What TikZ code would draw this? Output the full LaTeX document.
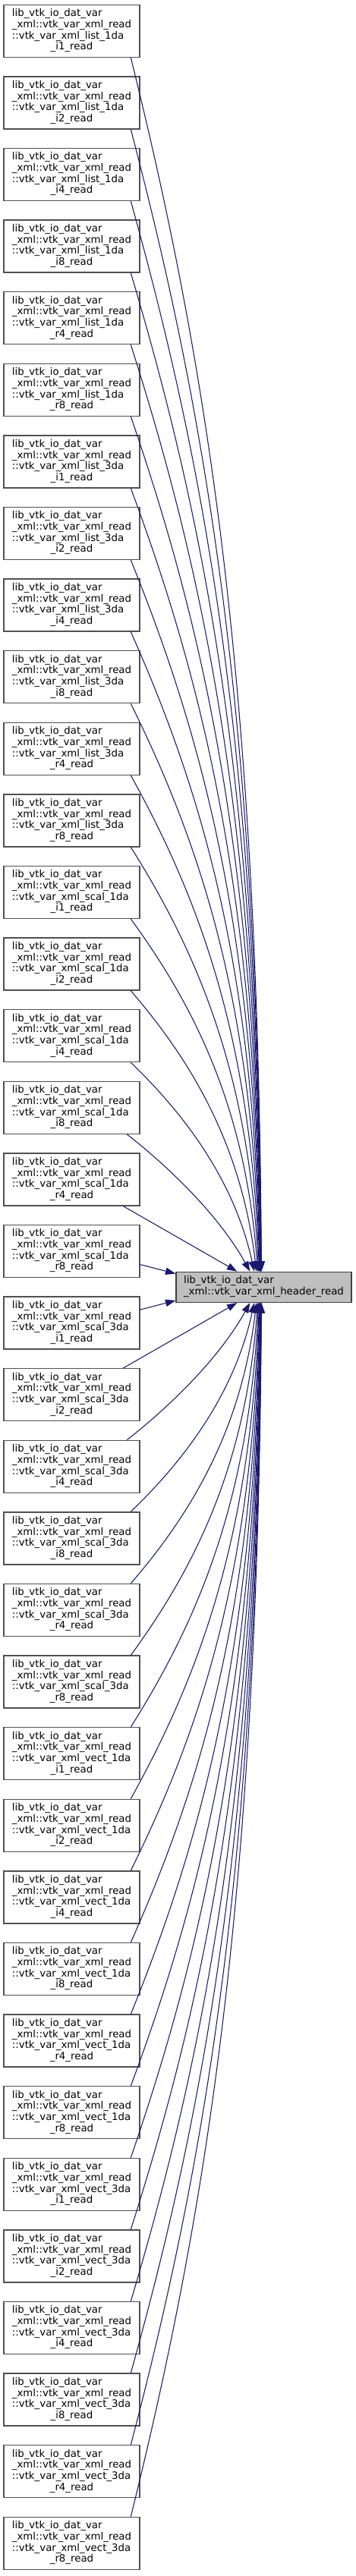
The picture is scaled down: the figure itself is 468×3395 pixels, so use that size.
\documentclass[tikz,border=0pt]{standalone}
\usepackage{fontspec}
\setmainfont{DejaVu Sans}
\usetikzlibrary{arrows.meta,calc}
\definecolor{edgecol}{RGB}{25,25,112}
\definecolor{bordercol}{RGB}{80,80,80}
\definecolor{rootfill}{RGB}{191,191,191}
\newcommand\mylbl[2]{\begin{tabular}{@{}l@{}}lib\_vtk\_io\_dat\_var\\\_xml::vtk\_var\_xml\_read\\::vtk\_var\_xml\_#1\\\multicolumn{1}{@{}c@{}}{\_#2\_read}\end{tabular}}
\begin{document}
\begin{tikzpicture}[x=0.75pt,y=-0.75pt,
  leftbox/.style={draw=bordercol,fill=white,line width=1pt,minimum width=134.25pt,minimum height=51.75pt,inner sep=0pt,font=\fontsize{10}{11}\selectfont},
  rootbox/.style={draw=bordercol!80!black,fill=rootfill,line width=1pt,minimum width=173.25pt,minimum height=30pt,inner sep=0pt,font=\fontsize{10}{11}\selectfont},
  edge/.style={draw=edgecol,line width=0.8pt,-{Triangle[length=10pt,width=7pt]},edgecol}]
\useasboundingbox (0,0) rectangle (468,3395);
% left nodes
\foreach \g [count=\k from 0] in {list\_1da,list\_3da,scal\_1da,scal\_3da,vect\_1da,vect\_3da}{
  \foreach \s [count=\m] in {i1,i2,i4,i8,r4,r8}{
    \pgfmathtruncatemacro\i{6*\k+\m}
    \pgfmathsetmacro\cy{40.8+(\i-1)*94.6}
    \node[leftbox] (n\i) at (94.5,\cy) {\mylbl{\g}{\s}};
  }
}
% root node
\node[rootbox] (root) at (347.5,1696.3) {\begin{tabular}{@{}l@{}}lib\_vtk\_io\_dat\_var\\\_xml::vtk\_var\_xml\_header\_read\end{tabular}};
% far edges
\foreach \i in {1,...,16}{
  \pgfmathtruncatemacro\j{37-\i}
  \pgfmathsetmacro\d{18.5-\i}
  \pgfmathsetmacro\xs{\i==16 ? 168 : 173}
  \pgfmathsetmacro\xe{347-34/(\d-0.5)}
  \pgfmathsetmacro\sy{40.8+(\i-1)*94.6+34.5}
  \pgfmathsetmacro\L{1676.3-\sy}
  \pgfmathsetmacro\w{min(1,183/\L)}
  \pgfmathsetmacro\dx{\xe-\xs}
  \pgfmathsetmacro\ax{\xs+(0.6-0.25*\w)*\dx}
  \pgfmathsetmacro\ay{0.25*\L}
  \pgfmathsetmacro\bx{\xe-0.25*\w*\dx}
  \pgfmathsetmacro\by{(0.5-0.1*\w)*\L}
  \draw[edge] ($(n\i.south west)+(\xs-5,0)$) .. controls (\ax,\sy+\ay) and (\bx,1676.3-\by) .. ($(root.north west)+(\xe-232,0)$);
  \draw[edge] ($(n\j.north west)+(\xs-5,0)$) .. controls (\ax,3392.6-\sy-\ay) and (\bx,1716.3+\by) .. ($(root.south west)+(\xe-232,0)$);
}
% near edges
\draw[edge] ($(n17.south west)+(158,0)$) -- ($(root.north west)+(81,0)$);
\draw[edge] ($(n20.north west)+(158,0)$) -- ($(root.south west)+(81,0)$);
\draw[edge] ($(n18.east)+(0,17.5)$) -- ($(root.north west)+(0,3)$);
\draw[edge] ($(n19.east)+(0,-17.5)$) -- ($(root.south west)+(0,-3)$);
\end{tikzpicture}
\end{document}
